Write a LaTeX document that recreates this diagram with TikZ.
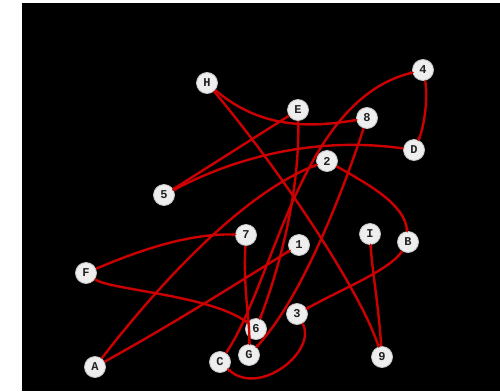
\documentclass[tikz,border=0pt]{standalone}
\usepackage{fontspec}
\newfontfamily\nodefont{Liberation Mono}
\usetikzlibrary{arrows.meta}
\definecolor{edgered}{HTML}{CC0000}
\definecolor{nodefill}{HTML}{EEEEEE}
\definecolor{nodetext}{HTML}{222222}
\tikzset{
  vtx/.style={circle, fill=nodefill, draw=gray!45, line width=0.8pt, minimum size=21pt, inner sep=0pt, font=\nodefont\bfseries\fontsize{12}{12}\selectfont, text=nodetext},
  edge/.style={draw=edgered, line width=2.4pt, -{Stealth[length=4pt,width=4pt]}, shorten >=-1.5pt}
}
\begin{document}
\begin{tikzpicture}[x=1pt,y=-1pt]
\useasboundingbox (0,0) rectangle (500,391);
\fill[white] (0,0) rectangle (500,391);
\fill[black] (22,3) rectangle (500,391);
% nodes
\node[vtx] (H) at (207,83) {H};
\node[vtx] (E) at (298,110) {E};
\node[vtx] (n8) at (367,118) {8};
\node[vtx] (n4) at (423,70) {4};
\node[vtx] (D) at (414,150) {D};
\node[vtx] (n2) at (327,161) {2};
\node[vtx] (n5) at (164,195) {5};
\node[vtx] (n7) at (246,235) {7};
\node[vtx] (n1) at (299,245) {1};
\node[vtx] (I) at (370,234) {I};
\node[vtx] (B) at (408,242) {B};
\node[vtx] (F) at (86,273) {F};
\node[vtx] (n6) at (256,329) {6};
\node[vtx] (n3) at (297,314) {3};
\node[vtx] (G) at (249,355) {G};
\node[vtx] (C) at (220,362) {C};
\node[vtx] (n9) at (382,357) {9};
\node[vtx] (A) at (95,367) {A};
% edges
\draw[edge] (H) .. controls (255,124) and (300,130) .. (n8);
\draw[edge] (H) .. controls (280,170) and (360,290) .. (n9);
\draw[edge] (E) -- (n5);
\draw[edge] (D) .. controls (330,138) and (250,150) .. (n5);
\draw[edge] (n4) .. controls (428,95) and (425,125) .. (D);
\draw[edge] (C) .. controls (275,280) and (300,100) .. (n4);
\draw[edge] (E) .. controls (300,200) and (275,280) .. (n6);
\draw[edge] (n8) .. controls (340,200) and (300,300) .. (G);
\draw[edge] (A) .. controls (170,270) and (250,190) .. (n2);
\draw[edge] (n2) .. controls (370,185) and (405,205) .. (B);
\draw[edge] (F) .. controls (140,250) and (190,233) .. (n7);
\draw[edge] (F) .. controls (110,290) and (210,295) .. (n6);
\draw[edge] (n7) .. controls (243,290) and (250,320) .. (G);
\draw[edge] (A) .. controls (180,320) and (250,275) .. (n1);
\draw[edge] (B) .. controls (390,270) and (340,290) .. (n3);
\draw[edge] (n3) .. controls (318,350) and (260,398) .. (C);
\draw[edge] (n9) .. controls (378,300) and (372,270) .. (I);
\end{tikzpicture}
\end{document}
